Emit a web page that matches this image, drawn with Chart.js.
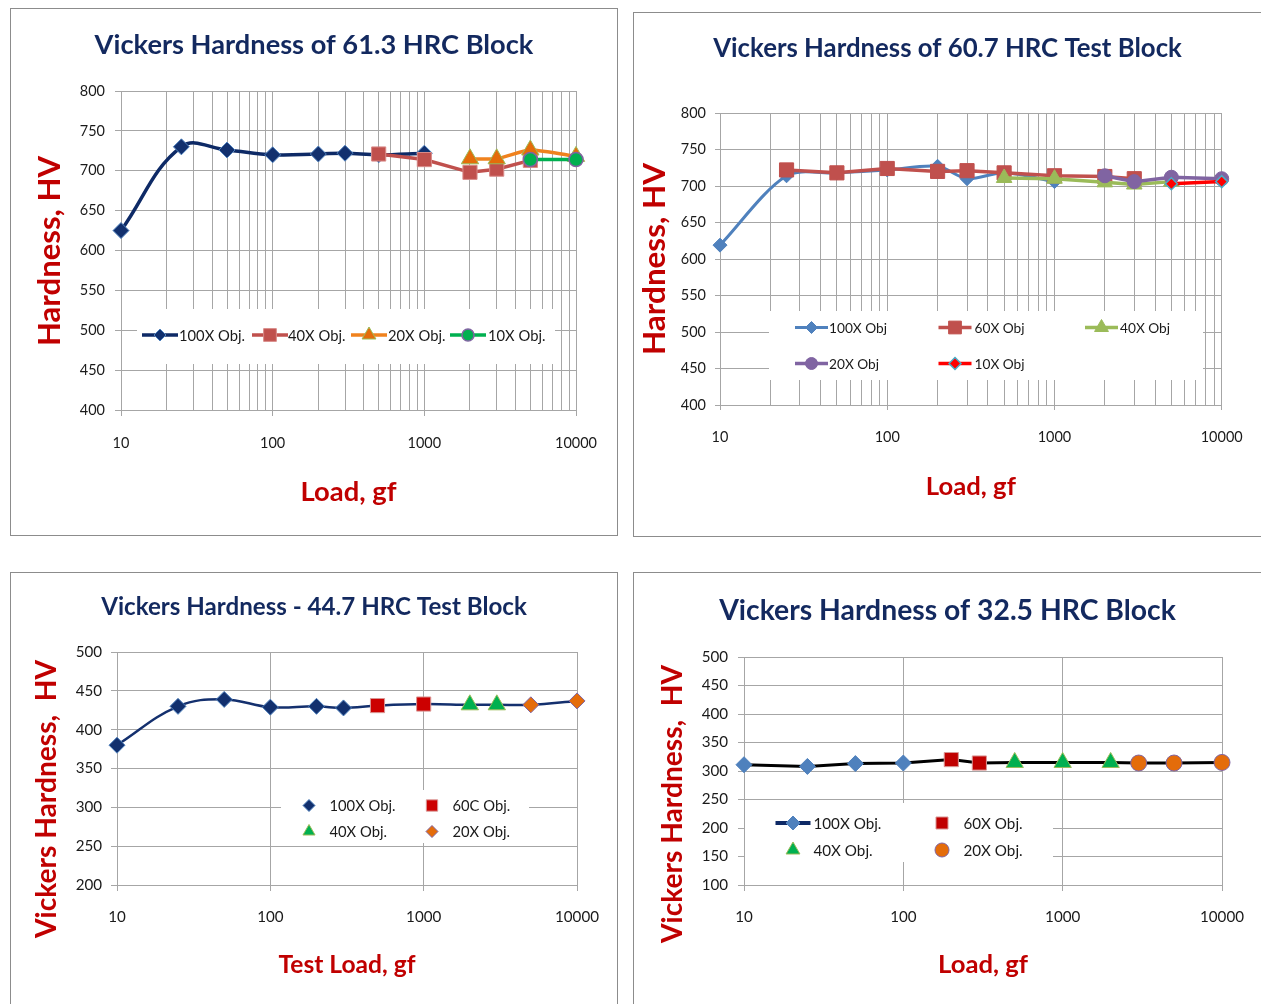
<!DOCTYPE html>
<html>
<head>
<meta charset="utf-8">
<script src="https://cdn.jsdelivr.net/npm/chart.js@4.4.1/dist/chart.umd.min.js"></script>
<style>
html, body { margin: 0; padding: 0; background: #ffffff; width: 1261px; height: 1004px; overflow: hidden; }
.panel { position: absolute; box-sizing: border-box; border: 1px solid #8c8c8c; background: #ffffff; overflow: hidden; }
.panel canvas { position: absolute; left: 0; top: 0; }
</style>
</head>
<body>
<div class="panel" style="left:10px;top:8px;width:608px;height:528px"><canvas id="c1" width="606" height="526" style="width:606px;height:526px"></canvas></div>
<div class="panel" style="left:633px;top:12px;width:640px;height:525px"><canvas id="c2" width="627" height="523" style="width:627px;height:523px"></canvas></div>
<div class="panel" style="left:10px;top:572px;width:608px;height:450px"><canvas id="c3" width="606" height="431" style="width:606px;height:431px"></canvas></div>
<div class="panel" style="left:633px;top:572px;width:640px;height:450px"><canvas id="c4" width="627" height="431" style="width:627px;height:431px"></canvas></div>
<script>
// ---------------- DATA ----------------
// Shared log-axis tick labels
const xDecades = [10, 100, 1000, 10000];
const xTickLabels = ['10', '100', '1000', '10000'];

// Chart 1: Vickers Hardness of 61.3 HRC Block
const c1Load100X = [10, 25, 50, 100, 200, 300, 500, 1000];
const c1Hv100X   = [625, 730, 726, 720, 721, 722, 720, 722];
const c1Load40X  = [500, 1000, 2000, 3000, 5000];
const c1Hv40X    = [721, 714, 698, 702, 713];
const c1Load20X  = [2000, 3000, 5000, 10000];
const c1Hv20X    = [715, 715, 726, 718];
const c1Load10X  = [5000, 10000];
const c1Hv10X    = [714, 714];

// Chart 2: Vickers Hardness of 60.7 HRC Test Block
const c2Load100X = [10, 25, 50, 100, 200, 300, 500, 1000];
const c2Hv100X   = [619, 714, 718, 722, 727, 710, 718, 706];
const c2Load60X  = [25, 50, 100, 200, 300, 500, 1000, 2000, 3000];
const c2Hv60X    = [722, 718, 724, 720, 721, 718, 714, 713, 710];
const c2Load40X  = [500, 1000, 2000, 3000, 5000];
const c2Hv40X    = [711, 710, 705, 702, 706];
const c2Load20X  = [2000, 3000, 5000, 10000];
const c2Hv20X    = [714, 706, 712, 710];
const c2Load10X  = [5000, 10000];
const c2Hv10X    = [703, 706];

// Chart 3: Vickers Hardness - 44.7 HRC Test Block
const c3Load100X = [10, 25, 50, 100, 200, 300];
const c3Hv100X   = [380, 430, 439, 429, 430, 428];
const c3Load60C  = [500, 1000];
const c3Hv60C    = [431, 433];
const c3Load40X  = [2000, 3000];
const c3Hv40X    = [432, 432];
const c3Load20X  = [5000, 10000];
const c3Hv20X    = [432, 437];

// Chart 4: Vickers Hardness of 32.5 HRC Block
const c4Load100X = [10, 25, 50, 100];
const c4Hv100X   = [311, 308, 313, 314];
const c4Load60X  = [200, 300];
const c4Hv60X    = [320, 314];
const c4Load40X  = [500, 1000, 2000];
const c4Hv40X    = [315, 315, 315];
const c4Load20X  = [3000, 5000, 10000];
const c4Hv20X    = [314, 314, 315];

// ---------------- STYLE ----------------
const GRID = '#A6A6A6';
const TICK_COLOR = '#1a1a1a';
const TITLE_COLOR = '#13295F';
const AXIS_TITLE_COLOR = '#C00000';
const FONT = 'Lato, "Open Sans", "Liberation Sans", sans-serif';

const measureCtx = document.createElement('canvas').getContext('2d');
// font size giving the requested rendered width
function fitSize(text, weight, width) {
  measureCtx.font = weight + ' 100px ' + FONT;
  return 100 * width / measureCtx.measureText(text).width;
}

function pts(xs, ys) { return xs.map((x, i) => ({ x: x, y: ys[i] })); }
function allPts(pairs) {
  let out = [];
  pairs.forEach(p => { out = out.concat(pts(p[0], p[1])); });
  return out.sort((a, b) => a.x - b.x);
}
function logTickValues(withMinor) {
  const vals = [];
  for (let i = 0; i < xDecades.length; i++) {
    vals.push(xDecades[i]);
    if (withMinor && i < xDecades.length - 1) {
      for (let m = 2; m <= 9; m++) vals.push(xDecades[i] * m);
    }
  }
  return vals.sort((a, b) => a - b);
}

function drawMarker(ctx, style, x, y, r) {
  ctx.beginPath();
  if (style === 'rectRot') {
    ctx.moveTo(x - r, y); ctx.lineTo(x, y - r); ctx.lineTo(x + r, y); ctx.lineTo(x, y + r); ctx.closePath();
  } else if (style === 'rect') {
    const s = r * Math.SQRT1_2; ctx.rect(x - s, y - s, 2 * s, 2 * s);
  } else if (style === 'triangle') {
    let a = 0;
    ctx.moveTo(x + Math.sin(a) * r, y - Math.cos(a) * r);
    a += 2 * Math.PI / 3; ctx.lineTo(x + Math.sin(a) * r, y - Math.cos(a) * r);
    a += 2 * Math.PI / 3; ctx.lineTo(x + Math.sin(a) * r, y - Math.cos(a) * r);
    ctx.closePath();
  } else {
    ctx.arc(x, y, r, 0, Math.PI * 2);
  }
  ctx.fill();
  ctx.stroke();
}

// Legend drawn inside the plot area (Excel style) + optional vertical shift of the y-axis title
const insideLegend = {
  id: 'insideLegend',
  beforeDraw(chart, args, opts) {
    const shift = opts && opts.yTitleShift;
    const s = chart.scales.y;
    if (shift && s && !s.__shiftPatched) {
      const orig = s.drawTitle;
      s.drawTitle = function () {
        this.top += shift; this.bottom += shift;
        try { orig.call(this); } finally { this.top -= shift; this.bottom -= shift; }
      };
      s.__shiftPatched = true;
    }
  },
  afterDatasetsDraw(chart, args, opts) {
    if (!opts || !opts.slots) return;
    const ctx = chart.ctx;
    ctx.save();
    const b = opts.box;
    ctx.fillStyle = '#ffffff';
    ctx.fillRect(b.x, b.y, b.w, b.h);
    const fs = fitSize(opts.refText, 'normal', opts.refWidth);
    opts.slots.forEach(s => {
      const ds = chart.data.datasets.find(d => d.label === s.label);
      if (!ds) return;
      if (s.line) {
        ctx.strokeStyle = s.lineColor || ds.borderColor;
        ctx.lineWidth = s.lineWidth || ds.borderWidth;
        ctx.lineCap = 'butt';
        ctx.beginPath();
        ctx.moveTo(s.sx - s.half, s.sy);
        ctx.lineTo(s.sx + s.half, s.sy);
        ctx.stroke();
      }
      ctx.fillStyle = ds.pointBackgroundColor;
      ctx.strokeStyle = ds.pointBorderColor;
      ctx.lineWidth = ds.pointBorderWidth;
      drawMarker(ctx, ds.pointStyle, s.sx, s.sy, s.r);
      ctx.fillStyle = TICK_COLOR;
      ctx.font = fs + 'px ' + FONT;
      ctx.textAlign = 'left';
      ctx.textBaseline = 'middle';
      ctx.fillText(s.label, s.tx, s.sy + 1);
    });
    ctx.restore();
  }
};

function makeChart(c) {
  const canvas = document.getElementById(c.canvas);
  const H = canvas.height;
  const tickSize = fitSize('10000', 'normal', c.tickRefWidth);
  const tickLH = tickSize * 1.2;
  const titleSize = fitSize(c.title, 'bold', c.titleWidth);
  const titleLH = titleSize * 1.2;
  const titlePadTop = c.titleCY - titleLH / 2;
  const titlePadBottom = c.chartTop - titlePadTop - titleLH;
  const yTitleSize = fitSize(c.yTitle, 'bold', c.yTitleLen);
  const yTitlePad = c.yTitleCX - yTitleSize * 0.6;
  const xTitleSize = fitSize(c.xTitle, 'bold', c.xTitleWidth);
  const xTitlePad = (H - c.xTitleCY) - xTitleSize * 0.6;
  const xTickPad = c.xLabelCY - c.chartBottom - c.tickLen - tickLH / 2;
  const yTickPad = c.chartLeft - c.yLabelRight - c.tickLen;
  const legendOpts = Object.assign({ yTitleShift: c.yTitleCY - (c.chartTop + c.chartBottom) / 2 }, c.legend);

  return new Chart(canvas, {
    type: 'line',
    data: { datasets: c.datasets.map(d => Object.assign({ xAxisID: 'x', yAxisID: 'y', clip: false, fill: false, pointHoverRadius: d.pointRadius }, d)) },
    options: {
      responsive: false,
      devicePixelRatio: 1,
      animation: false,
      events: [],
      layout: { padding: 0 },
      plugins: {
        legend: { display: false },
        tooltip: { enabled: false },
        title: {
          display: true, text: c.title, color: TITLE_COLOR,
          font: { family: FONT, size: titleSize, weight: 'bold' },
          padding: { top: titlePadTop, bottom: titlePadBottom }
        },
        insideLegend: legendOpts
      },
      scales: {
        x: {
          type: 'logarithmic', min: 10, max: 10000, position: 'bottom',
          afterBuildTicks: (s) => { s.ticks = logTickValues(c.minorGrid).map(v => ({ value: v, major: xDecades.indexOf(v) >= 0 })); },
          afterFit: (s) => { s.height = H - c.chartBottom; },
          ticks: {
            autoSkip: false, maxRotation: 0, minRotation: 0, padding: xTickPad,
            color: TICK_COLOR, font: { family: FONT, size: tickSize },
            callback: (v) => { const k = xDecades.indexOf(v); return k >= 0 ? xTickLabels[k] : ''; }
          },
          grid: {
            color: GRID, lineWidth: 1, tickLength: c.tickLen,
            tickColor: (ctx) => (ctx.tick && ctx.tick.major) ? GRID : 'rgba(0,0,0,0)'
          },
          border: { color: GRID, width: 1 },
          title: {
            display: true, text: c.xTitle, color: AXIS_TITLE_COLOR,
            font: { family: FONT, size: xTitleSize, weight: 'bold' },
            padding: { top: 0, bottom: xTitlePad }
          }
        },
        y: {
          position: 'left', min: c.yMin, max: c.yMax,
          afterFit: (s) => { s.width = c.chartLeft; },
          ticks: { stepSize: 50, padding: yTickPad, color: TICK_COLOR, font: { family: FONT, size: tickSize } },
          grid: { color: GRID, lineWidth: 1, tickLength: c.tickLen, tickColor: GRID },
          border: { color: GRID, width: 1 },
          title: {
            display: true, text: c.yTitle, color: AXIS_TITLE_COLOR,
            font: { family: FONT, size: yTitleSize, weight: 'bold' },
            padding: { top: yTitlePad, bottom: 0 }
          }
        },
        yR: {
          position: 'right',
          afterFit: (s) => { s.width = canvas.width - c.chartRight; },
          ticks: { display: false },
          grid: { display: false, drawTicks: false },
          border: { display: false }
        }
      }
    },
    plugins: [insideLegend]
  });
}

// ---------- Chart 1 ----------
makeChart({
  canvas: 'c1',
  title: 'Vickers Hardness of 61.3 HRC Block', titleWidth: 439, titleCY: 36,
  yTitle: 'Hardness, HV', yTitleLen: 190, yTitleCX: 39, yTitleCY: 242,
  xTitle: 'Load, gf', xTitleWidth: 96, xTitleCY: 483,
  chartLeft: 110, chartRight: 565, chartTop: 82, chartBottom: 401,
  xLabelCY: 434, yLabelRight: 94, tickRefWidth: 42,
  yMin: 400, yMax: 800, tickLen: 6, minorGrid: true,
  datasets: [
    { label: '100X Obj.', data: pts(c1Load100X, c1Hv100X), borderColor: '#0E2A66', borderWidth: 3.5, tension: 0.4,
      pointStyle: 'rectRot', pointRadius: 8, pointBackgroundColor: '#12306E', pointBorderColor: '#4F81BD', pointBorderWidth: 1, order: 4 },
    { label: '40X Obj.', data: pts(c1Load40X, c1Hv40X), borderColor: '#C0504D', borderWidth: 3.5, tension: 0,
      pointStyle: 'rect', pointRadius: 10, pointBackgroundColor: '#C0504D', pointBorderColor: '#D98B89', pointBorderWidth: 1, order: 3 },
    { label: '20X Obj.', data: pts(c1Load20X, c1Hv20X), borderColor: '#F0821E', borderWidth: 3.5, tension: 0.2,
      pointStyle: 'triangle', pointRadius: 10, pointBackgroundColor: '#E46C0A', pointBorderColor: '#9BBB59', pointBorderWidth: 1, order: 2 },
    { label: '10X Obj.', data: pts(c1Load10X, c1Hv10X), borderColor: '#00B050', borderWidth: 3.5, tension: 0,
      pointStyle: 'circle', pointRadius: 7, pointBackgroundColor: '#00B050', pointBorderColor: '#8064A2', pointBorderWidth: 1.5, order: 1 }
  ],
  legend: {
    box: { x: 126, y: 300, w: 418, h: 55 }, refText: '100X Obj.', refWidth: 66,
    slots: [
      { label: '100X Obj.', sx: 149, sy: 326, tx: 168, r: 6, line: true, half: 18 },
      { label: '40X Obj.', sx: 259, sy: 326, tx: 277, r: 9, line: true, half: 18 },
      { label: '20X Obj.', sx: 358, sy: 326, tx: 377, r: 8, line: true, half: 18 },
      { label: '10X Obj.', sx: 457, sy: 326, tx: 477, r: 6, line: true, half: 18 }
    ]
  }
});

// ---------- Chart 2 ----------
makeChart({
  canvas: 'c2',
  title: 'Vickers Hardness of 60.7 HRC Test Block', titleWidth: 469, titleCY: 36,
  yTitle: 'Hardness, HV', yTitleLen: 192, yTitleCX: 21, yTitleCY: 246,
  xTitle: 'Load, gf', xTitleWidth: 90, xTitleCY: 474,
  chartLeft: 86, chartRight: 590, chartTop: 100, chartBottom: 392,
  xLabelCY: 424, yLabelRight: 72, tickRefWidth: 42,
  yMin: 400, yMax: 800, tickLen: 5, minorGrid: true,
  datasets: [
    { label: '100X Obj', data: pts(c2Load100X, c2Hv100X), borderColor: '#4F81BD', borderWidth: 3, tension: 0.3,
      pointStyle: 'rectRot', pointRadius: 7, pointBackgroundColor: '#4F81BD', pointBorderColor: '#4F81BD', pointBorderWidth: 1, order: 5 },
    { label: '60X Obj', data: pts(c2Load60X, c2Hv60X), borderColor: '#C0504D', borderWidth: 3.5, tension: 0,
      pointStyle: 'rect', pointRadius: 10, pointBackgroundColor: '#C0504D', pointBorderColor: '#C0504D', pointBorderWidth: 1, order: 4 },
    { label: '40X Obj', data: pts(c2Load40X, c2Hv40X), borderColor: '#9BBB59', borderWidth: 3.5, tension: 0,
      pointStyle: 'triangle', pointRadius: 9, pointBackgroundColor: '#9BBB59', pointBorderColor: '#9BBB59', pointBorderWidth: 1, order: 3 },
    { label: '20X Obj', data: pts(c2Load20X, c2Hv20X), borderColor: '#8064A2', borderWidth: 3.5, tension: 0,
      pointStyle: 'circle', pointRadius: 7, pointBackgroundColor: '#8064A2', pointBorderColor: '#8064A2', pointBorderWidth: 1, order: 2 },
    { label: '10X Obj', data: pts(c2Load10X, c2Hv10X), borderColor: '#FF0000', borderWidth: 3.5, tension: 0,
      pointStyle: 'rectRot', pointRadius: 6, pointBackgroundColor: '#FF0000', pointBorderColor: '#4BACC6', pointBorderWidth: 1.5, order: 1 }
  ],
  legend: {
    box: { x: 135, y: 298, w: 434, h: 69 }, refText: '100X Obj', refWidth: 58,
    slots: [
      { label: '100X Obj', sx: 177.5, sy: 314.5, tx: 195, r: 6, line: true, half: 16.5 },
      { label: '60X Obj', sx: 321, sy: 314.5, tx: 340.5, r: 9, line: true, half: 16.5 },
      { label: '40X Obj', sx: 467.5, sy: 314.5, tx: 486, r: 8, line: true, half: 16.5 },
      { label: '20X Obj', sx: 177.5, sy: 350.5, tx: 195, r: 6, line: true, half: 16.5 },
      { label: '10X Obj', sx: 321, sy: 350.5, tx: 340.5, r: 6, line: true, half: 16.5 }
    ]
  }
});

// ---------- Chart 3 ----------
makeChart({
  canvas: 'c3',
  title: 'Vickers Hardness - 44.7 HRC Test Block', titleWidth: 426, titleCY: 34,
  yTitle: 'Vickers Hardness,  HV', yTitleLen: 278, yTitleCX: 36, yTitleCY: 226,
  xTitle: 'Test Load, gf', xTitleWidth: 137, xTitleCY: 392,
  chartLeft: 106, chartRight: 566, chartTop: 79, chartBottom: 312,
  xLabelCY: 344, yLabelRight: 91, tickRefWidth: 44,
  yMin: 200, yMax: 500, tickLen: 6, minorGrid: false,
  datasets: [
    { label: 'trend', data: allPts([[c3Load100X, c3Hv100X], [c3Load60C, c3Hv60C], [c3Load40X, c3Hv40X], [c3Load20X, c3Hv20X]]),
      borderColor: '#14306E', borderWidth: 2.5, tension: 0.4, pointRadius: 0, order: 10 },
    { label: '100X Obj.', data: pts(c3Load100X, c3Hv100X), showLine: false,
      pointStyle: 'rectRot', pointRadius: 8, pointBackgroundColor: '#12306E', pointBorderColor: '#4F81BD', pointBorderWidth: 1, borderColor: '#12306E', order: 4 },
    { label: '60C Obj.', data: pts(c3Load60C, c3Hv60C), showLine: false,
      pointStyle: 'rect', pointRadius: 10, pointBackgroundColor: '#CC0000', pointBorderColor: '#D99694', pointBorderWidth: 1, borderColor: '#CC0000', order: 3 },
    { label: '40X Obj.', data: pts(c3Load40X, c3Hv40X), showLine: false,
      pointStyle: 'triangle', pointRadius: 10, pointBackgroundColor: '#00B050', pointBorderColor: '#9BBB59', pointBorderWidth: 1, borderColor: '#00B050', order: 2 },
    { label: '20X Obj.', data: pts(c3Load20X, c3Hv20X), showLine: false,
      pointStyle: 'rectRot', pointRadius: 8, pointBackgroundColor: '#E46C0A', pointBorderColor: '#8064A2', pointBorderWidth: 1, borderColor: '#E46C0A', order: 1 }
  ],
  legend: {
    box: { x: 270, y: 217, w: 248, h: 53 }, refText: '100X Obj.', refWidth: 66,
    slots: [
      { label: '100X Obj.', sx: 298, sy: 232.5, tx: 318.5, r: 6, line: false },
      { label: '60C Obj.', sx: 421, sy: 232.5, tx: 441.5, r: 8, line: false },
      { label: '40X Obj.', sx: 298, sy: 258.5, tx: 318.5, r: 7, line: false },
      { label: '20X Obj.', sx: 421, sy: 258.5, tx: 441.5, r: 6, line: false }
    ]
  }
});

// ---------- Chart 4 ----------
makeChart({
  canvas: 'c4',
  title: 'Vickers Hardness of 32.5 HRC Block', titleWidth: 457, titleCY: 38,
  yTitle: 'Vickers Hardness,  HV', yTitleLen: 278, yTitleCX: 39, yTitleCY: 231,
  xTitle: 'Load, gf', xTitleWidth: 90, xTitleCY: 392,
  chartLeft: 110, chartRight: 588, chartTop: 84, chartBottom: 312,
  xLabelCY: 344, yLabelRight: 94, tickRefWidth: 44,
  yMin: 100, yMax: 500, tickLen: 6, minorGrid: false,
  datasets: [
    { label: 'trend', data: allPts([[c4Load100X, c4Hv100X], [c4Load60X, c4Hv60X], [c4Load40X, c4Hv40X], [c4Load20X, c4Hv20X]]),
      borderColor: '#000000', borderWidth: 3, tension: 0, pointRadius: 0, order: 10 },
    { label: '100X Obj.', data: pts(c4Load100X, c4Hv100X), showLine: false,
      pointStyle: 'rectRot', pointRadius: 8, pointBackgroundColor: '#4F81BD', pointBorderColor: '#4F81BD', pointBorderWidth: 1, borderColor: '#0E2A66', borderWidth: 4, order: 4 },
    { label: '60X Obj.', data: pts(c4Load60X, c4Hv60X), showLine: false,
      pointStyle: 'rect', pointRadius: 10, pointBackgroundColor: '#C00000', pointBorderColor: '#D99694', pointBorderWidth: 1, borderColor: '#C00000', order: 3 },
    { label: '40X Obj.', data: pts(c4Load40X, c4Hv40X), showLine: false,
      pointStyle: 'triangle', pointRadius: 10, pointBackgroundColor: '#00B050', pointBorderColor: '#9BBB59', pointBorderWidth: 1, borderColor: '#00B050', order: 2 },
    { label: '20X Obj.', data: pts(c4Load20X, c4Hv20X), showLine: false,
      pointStyle: 'circle', pointRadius: 8, pointBackgroundColor: '#E46C0A', pointBorderColor: '#8064A2', pointBorderWidth: 1, borderColor: '#E46C0A', order: 1 }
  ],
  legend: {
    box: { x: 111, y: 230, w: 308, h: 59 }, refText: '100X Obj.', refWidth: 68,
    slots: [
      { label: '100X Obj.', sx: 159, sy: 250, tx: 179.5, r: 7, line: true, half: 17.5 },
      { label: '60X Obj.', sx: 308, sy: 250, tx: 329.5, r: 8.5, line: false },
      { label: '40X Obj.', sx: 159, sy: 277, tx: 179.5, r: 8, line: false },
      { label: '20X Obj.', sx: 308, sy: 277, tx: 329.5, r: 7, line: false }
    ]
  }
});
</script>
</body>
</html>
